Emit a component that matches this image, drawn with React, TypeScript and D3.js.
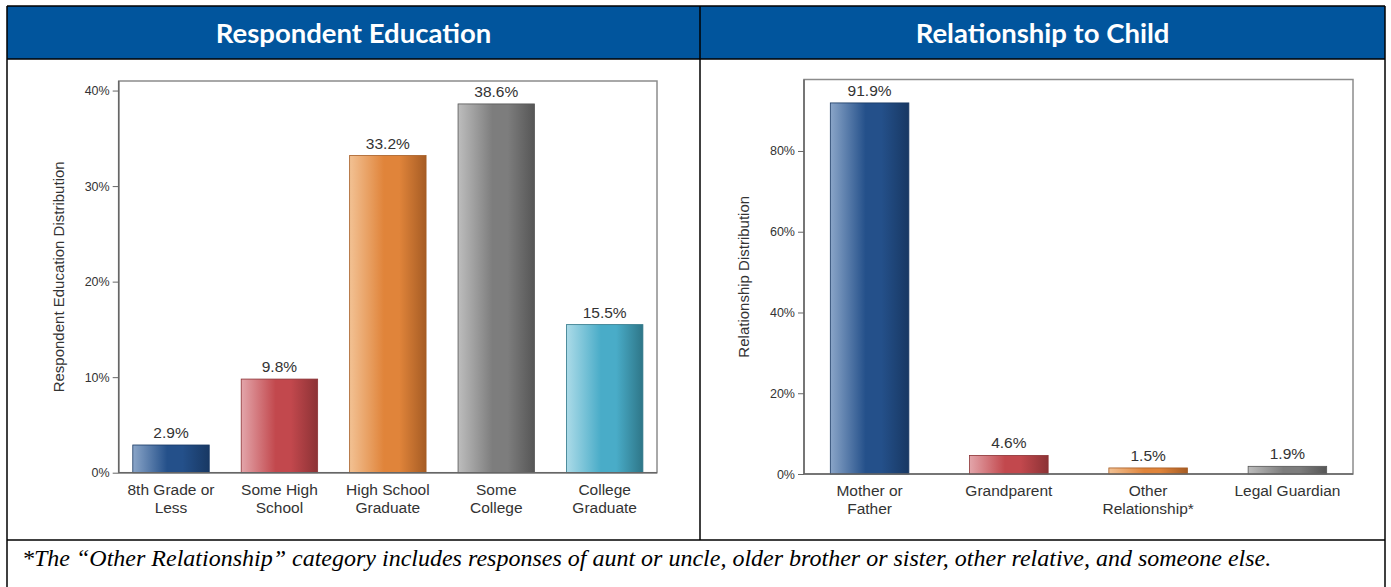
import { useEffect, useRef } from 'react';
import * as d3 from 'd3';

const educationCategories = [
  ['8th Grade or', 'Less'],
  ['Some High', 'School'],
  ['High School', 'Graduate'],
  ['Some', 'College'],
  ['College', 'Graduate'],
];
const educationValues = [2.9, 9.8, 33.2, 38.6, 15.5];
const educationTicks = [0, 10, 20, 30, 40];

const relationshipCategories = [
  ['Mother or', 'Father'],
  ['Grandparent'],
  ['Other', 'Relationship*'],
  ['Legal Guardian'],
];
const relationshipValues = [91.9, 4.6, 1.5, 1.9];
const relationshipTicks = [0, 20, 40, 60, 80];

// left / mid / right stops of each bar's gradient
const barPalettes = [
  ['#8aa5c8', '#24508a', '#183863'],
  ['#e3a5aa', '#c2484d', '#8c3235'],
  ['#f2c193', '#e0843a', '#a65c24'],
  ['#bdbdbd', '#7d7d7d', '#565656'],
  ['#acdbe8', '#49acc8', '#2e7688'],
];

const W = 1391;
const H = 587;
const FONT = '"Liberation Sans", Arial, sans-serif';

interface ChartOpts {
  id: string;
  categories: string[][];
  values: number[];
  ticks: number[];
  yMax: number;
  yTitle: string;
  left: number;
  right: number;
  top: number;
  bottom: number;
  padInner: number;
  padOuter: number;
}

function drawChart(svg: d3.Selection<SVGSVGElement, unknown, null, undefined>, o: ChartOpts) {
  const g = svg.append('g');
  const data = o.values.map((v, i) => ({ key: String(i), value: v, lines: o.categories[i] }));

  const x = d3.scaleBand()
    .domain(data.map(d => d.key))
    .range([o.left, o.right])
    .paddingInner(o.padInner)
    .paddingOuter(o.padOuter);

  const y = d3.scaleLinear()
    .domain([0, o.yMax])
    .range([o.bottom, o.top]);

  // frame
  g.append('rect')
    .attr('x', o.left)
    .attr('y', o.top)
    .attr('width', o.right - o.left)
    .attr('height', o.bottom - o.top)
    .attr('fill', 'none')
    .attr('stroke', '#8c8c8c')
    .attr('stroke-width', 1.5);

  // gradients
  const defs = svg.select('defs');
  data.forEach((d, i) => {
    const pal = barPalettes[i];
    const grad = defs.append('linearGradient')
      .attr('id', `${o.id}-g${i}`)
      .attr('x1', 0).attr('x2', 1).attr('y1', 0).attr('y2', 0);
    grad.append('stop').attr('offset', '0%').attr('stop-color', pal[0]);
    grad.append('stop').attr('offset', '45%').attr('stop-color', pal[1]);
    grad.append('stop').attr('offset', '65%').attr('stop-color', pal[1]);
    grad.append('stop').attr('offset', '100%').attr('stop-color', pal[2]);
  });

  g.selectAll('.bar')
    .data(data)
    .join('rect')
    .attr('class', 'bar')
    .attr('x', d => x(d.key) || 0)
    .attr('y', d => y(d.value))
    .attr('width', x.bandwidth())
    .attr('height', d => o.bottom - y(d.value))
    .attr('fill', (d, i) => `url(#${o.id}-g${i})`)
    .attr('stroke', (d, i) => barPalettes[i][2])
    .attr('stroke-width', 0.8);

  g.selectAll('.val')
    .data(data)
    .join('text')
    .attr('class', 'val')
    .attr('x', d => (x(d.key) || 0) + x.bandwidth() / 2)
    .attr('y', d => y(d.value) - 7)
    .attr('text-anchor', 'middle')
    .style('font-family', FONT)
    .style('font-size', '15.5px')
    .style('fill', '#333')
    .text(d => `${d.value.toFixed(1)}%`);

  const labels = g.selectAll('.cat')
    .data(data)
    .join('text')
    .attr('class', 'cat')
    .attr('text-anchor', 'middle')
    .style('font-family', FONT)
    .style('font-size', '15.5px')
    .style('fill', '#333');
  labels.each(function(d) {
    const t = d3.select(this);
    d.lines.forEach((line, li) => {
      t.append('tspan')
        .attr('x', (x(d.key) || 0) + x.bandwidth() / 2)
        .attr('y', o.bottom + 22 + li * 18)
        .text(line);
    });
  });

  // y axis
  const yAxis = g.append('g')
    .attr('transform', `translate(${o.left},0)`)
    .call(d3.axisLeft(y).tickValues(o.ticks).tickSize(6).tickPadding(3).tickFormat(d => `${d}%`));
  yAxis.select('.domain').remove();
  yAxis.selectAll('line').attr('stroke', '#666');
  yAxis.selectAll('text')
    .style('font-family', FONT)
    .style('font-size', '12.5px')
    .style('fill', '#333');

  // axis lines
  g.append('line')
    .attr('x1', o.left).attr('x2', o.left)
    .attr('y1', o.top).attr('y2', o.bottom)
    .attr('stroke', '#666').attr('stroke-width', 1.5);
  g.append('line')
    .attr('x1', o.left).attr('x2', o.right)
    .attr('y1', o.bottom).attr('y2', o.bottom)
    .attr('stroke', '#666').attr('stroke-width', 1.5);

  g.append('text')
    .attr('transform', `translate(${o.left - 55},${(o.top + o.bottom) / 2}) rotate(-90)`)
    .attr('text-anchor', 'middle')
    .style('font-family', FONT)
    .style('font-size', '15px')
    .style('fill', '#333')
    .text(o.yTitle);
}

export default function App() {
  const svgRef = useRef<SVGSVGElement>(null);

  useEffect(() => {
    if (!svgRef.current) return;
    const svg = d3.select(svgRef.current);
    svg.selectAll('*').remove();
    svg.append('defs');

    const frameL = 7, frameR = 1385, midX = 700;
    const headTop = 6, headBot = 59, footTop = 540;

    svg.append('rect')
      .attr('x', frameL).attr('y', headTop)
      .attr('width', frameR - frameL).attr('height', headBot - headTop)
      .attr('fill', '#01559d');

    const border = svg.append('g').attr('stroke', '#000').attr('stroke-width', 1.5);
    border.append('line').attr('x1', frameL).attr('x2', frameR).attr('y1', headTop).attr('y2', headTop);
    border.append('line').attr('x1', frameL).attr('x2', frameR).attr('y1', headBot).attr('y2', headBot);
    border.append('line').attr('x1', frameL).attr('x2', frameR).attr('y1', footTop).attr('y2', footTop);
    border.append('line').attr('x1', frameL).attr('x2', frameL).attr('y1', headTop).attr('y2', H);
    border.append('line').attr('x1', frameR).attr('x2', frameR).attr('y1', headTop).attr('y2', H);
    border.append('line').attr('x1', midX).attr('x2', midX).attr('y1', headTop).attr('y2', footTop);

    [['Respondent Education', (frameL + midX) / 2], ['Relationship to Child', (midX + frameR) / 2]]
      .forEach(([label, cx]) => {
        svg.append('text')
          .attr('x', cx as number)
          .attr('y', 43)
          .attr('text-anchor', 'middle')
          .style('font-family', 'Lato, "Open Sans", sans-serif')
          .style('font-weight', 700)
          .style('font-size', '27.5px')
          .style('fill', '#fff')
          .text(label as string);
      });

    drawChart(svg, {
      id: 'edu',
      categories: educationCategories,
      values: educationValues,
      ticks: educationTicks,
      yMax: 41,
      yTitle: 'Respondent Education Distribution',
      left: 118.7, right: 657, top: 81, bottom: 472.7,
      padInner: 0.295, padOuter: 0.13,
    });

    drawChart(svg, {
      id: 'rel',
      categories: relationshipCategories,
      values: relationshipValues,
      ticks: relationshipTicks,
      yMax: 97.7,
      yTitle: 'Relationship Distribution',
      left: 804, right: 1353, top: 79.5, bottom: 474,
      padInner: 0.436, padOuter: 0.189,
    });

    svg.append('text')
      .attr('x', 22)
      .attr('y', 566)
      .style('font-family', '"Liberation Serif", "Times New Roman", serif')
      .style('font-style', 'italic')
      .style('font-size', '24px')
      .style('fill', '#000')
      .text('*The \u201cOther Relationship\u201d category includes responses of aunt or uncle, older brother or sister, other relative, and someone else.');
  }, []);

  return (
    <div style={{ position: 'absolute', left: 0, top: 0 }}>
      <svg ref={svgRef} width={W} height={H} style={{ display: 'block', background: '#fff' }}></svg>
    </div>
  );
}
